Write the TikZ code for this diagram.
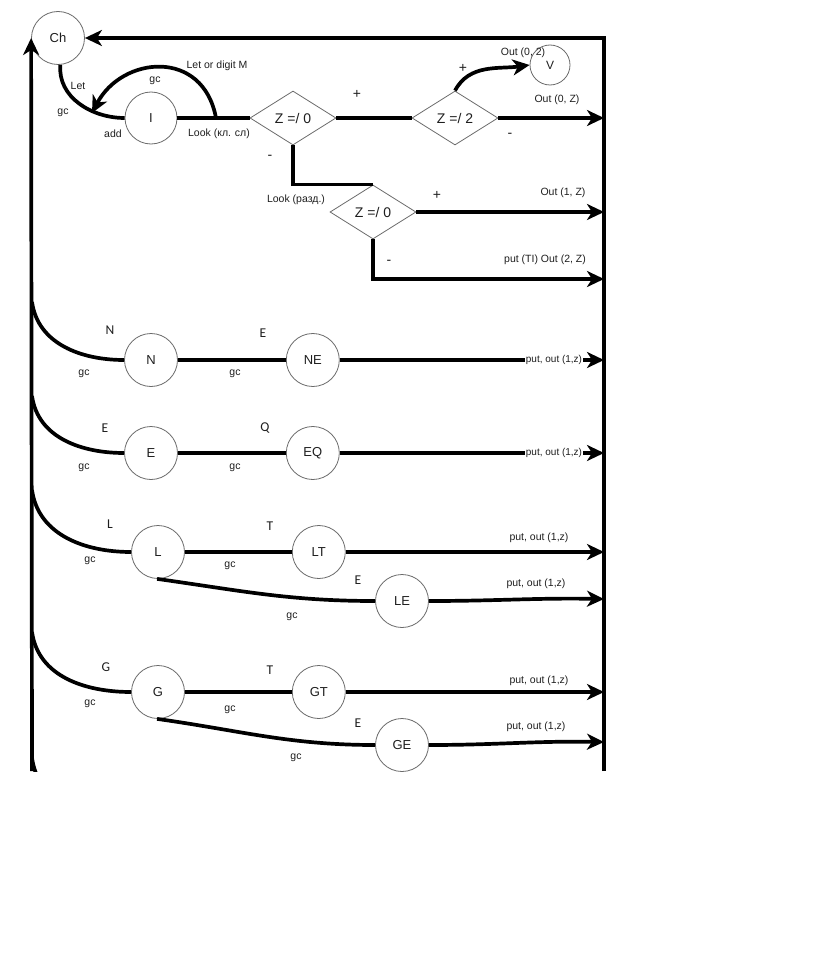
\documentclass[tikz,border=0pt]{standalone}
\usepackage{fontspec}
\setmainfont{Liberation Sans}
\newfontfamily\letterfont{Carlito}
\usepackage{tikz}
\usetikzlibrary{positioning}
\usetikzlibrary{arrows.meta}
\usetikzlibrary{shapes.geometric}
\definecolor{fl-line}{HTML}{000000}
\definecolor{fl-edge}{HTML}{6A6A6A}
\definecolor{fl-text}{HTML}{1E1E1E}

\begin{document}
\begin{tikzpicture}[
    x=1pt, y=-1pt, % pixel-like grid, y grows downwards
    font=\fontsize{10.5}{12}\selectfont,
    >={Stealth[length=17pt,width=16pt,inset=5pt]}
  ]

  % Global Style Definitions
  \tikzset{
    state/.style={circle, draw=fl-edge, line width=0.8pt, minimum size=53pt, inner sep=0pt, text=fl-text, font=\fontsize{13}{15}\selectfont},
    test/.style={diamond, draw=fl-edge, line width=0.8pt, minimum width=86pt, minimum height=54pt, inner sep=0pt, text=fl-text, font=\fontsize{14}{16}\selectfont},
    flow/.style={line width=3.7pt, draw=fl-line},
    lab/.style={inner sep=1pt, text=fl-text},
    outlab/.style={inner sep=0.5pt, fill=white, text=fl-text, font=\fontsize{10}{11}\selectfont},
    sign/.style={inner sep=1pt, text=fl-text, font=\fontsize{14}{16}\selectfont},
    letter/.style={inner sep=1pt, text=fl-text, font=\letterfont\fontsize{13.5}{15}\selectfont}
  }

  \useasboundingbox (0,0) rectangle (824,979);

  % Upper part: identifiers and delimiters
  \node (ch) [state] at (58,38) {Ch};
  \node (i)  [state, minimum size=52pt] at (151,118) {I};
  \node (za) [test] at (293,118) {Z =/ 0};
  \node (zb) [test] at (455,118) {Z =/ 2};
  \node (zc) [test] at (373,212) {Z =/ 0};
  \node (v)  [state, minimum size=40pt, font=\fontsize{12}{14}\selectfont] at (550,65) {V};

  \coordinate (lk) at (216,118);
  \coordinate (ar) at (92,113);
  \coordinate (oa) at (604,118);
  \coordinate (ob) at (604,212);
  \coordinate (oc) at (604,279);
  \coordinate (lb) at (32,771);
  \coordinate (rb) at (604,771);

  % Frame back to Ch
  \draw[flow, ->] (rb) |- (ch.east);
  \draw[flow, ->] (lb) -- (ch.west);

  \draw[flow] (ch.-85) to[out=-95, in=180] (i.west);
  \draw[flow, ->] (lk) .. controls (203,48) and (122,56) .. (ar);
  \draw[flow] (i.east) -- (za.west);
  \draw[flow] (za.east) -- (zb.west);
  \draw[flow, ->] (zb.east) -- (oa);
  \draw[flow, ->] (zb.north) to[out=62, in=188] (v.west);
  \draw[flow] (za.south) |- (zc.north);
  \draw[flow, ->] (zc.east) -- (ob);
  \draw[flow, ->] (zc.south) |- (oc);

  \node (t1)  [lab] at (217,66) {Let or digit M};
  \node (t2)  [lab] at (155,81) {gc};
  \node (t3)  [lab] at (78,86) {Let};
  \node (t4)  [lab] at (63,113) {gc};
  \node (t5)  [lab] at (113,134) {add};
  \node (t6)  [lab] at (219,134) {Look (кл. сл)};
  \node (t7)  [sign] at (357,94) {+};
  \node (t8)  [sign] at (270,157) {-};
  \node (t9)  [lab] at (296,200) {Look (разд.)};
  \node (t10) [sign] at (463,68) {+};
  \node (t11) [lab] at (523,53) {Out (0, 2)};
  \node (t12) [lab] at (557,100) {Out (0, Z)};
  \node (t13) [sign] at (510,135) {-};
  \node (t14) [sign] at (437,195) {+};
  \node (t15) [lab] at (563,193) {Out (1, Z)};
  \node (t16) [lab] at (545,260) {put (TI) Out (2, Z)};
  \node (t17) [sign] at (389,262) {-};

  % Row NE
  \coordinate (nA) at (32,302);
  \coordinate (nO) at (604,360);
  \node (n)  [state] at (151,360) {N};
  \node (ne) [state, right=108pt of n] {NE};
  \draw[flow] (nA) to[out=-82, in=180] (n.west);
  \draw[flow] (n) -- (ne);
  \draw[flow, ->] (ne) -- (nO);
  \node (n1) [letter] at (110,330) {N};
  \node (n2) [lab] at (84,374) {gc};
  \node (n3) [letter] at (263,333) {E};
  \node (n4) [lab] at (235,374) {gc};
  \node (n5) [outlab] at (554,360) {put, out (1,z)};

  % Row EQ
  \coordinate (eA) at (32,396);
  \coordinate (eO) at (604,453);
  \node (e)  [state] at (151,453) {E};
  \node (eq) [state, right=108pt of e] {EQ};
  \draw[flow] (eA) to[out=-82, in=180] (e.west);
  \draw[flow] (e) -- (eq);
  \draw[flow, ->] (eq) -- (eO);
  \node (e1) [letter] at (105,428) {E};
  \node (e2) [lab] at (84,468) {gc};
  \node (e3) [letter] at (265,428) {Q};
  \node (e4) [lab] at (235,468) {gc};
  \node (e5) [outlab] at (554,453) {put, out (1,z)};

  % Row LT / LE
  \coordinate (lA) at (32,490);
  \coordinate (ltO) at (604,552);
  \coordinate (leO) at (604,599);
  \node (l)  [state] at (158,552) {L};
  \node (lt) [state, right=107pt of l] {LT};
  \node (le) [state] at (402,601) {LE};
  \draw[flow] (lA) to[out=-82, in=180] (l.west);
  \draw[flow] (l) -- (lt);
  \draw[flow, ->] (lt) -- (ltO);
  \draw[flow] (l.-92) to[out=-8, in=180] (le.west);
  \draw[flow, ->] (le.east) to[out=0, in=179] (leO);
  \node (l1) [letter] at (110,524) {L};
  \node (l2) [lab] at (90,561) {gc};
  \node (l3) [letter] at (270,526) {T};
  \node (l4) [lab] at (230,566) {gc};
  \node (l5) [letter] at (358,580) {E};
  \node (l6) [lab] at (292,617) {gc};
  \node (l7) [lab] at (539,538) {put, out (1,z)};
  \node (l8) [lab] at (536,584) {put, out (1,z)};

  % Row GT / GE
  \coordinate (gA) at (32,632);
  \coordinate (gtO) at (604,692);
  \coordinate (geO) at (604,742);
  \node (g)  [state] at (158,692) {G};
  \node (gt) [state, right=107pt of g] {GT};
  \node (ge) [state] at (402,745) {GE};
  \draw[flow] (gA) to[out=-82, in=180] (g.west);
  \draw[flow] (g) -- (gt);
  \draw[flow, ->] (gt) -- (gtO);
  \draw[flow] (g.-92) to[out=-8, in=180] (ge.west);
  \draw[flow, ->] (ge.east) to[out=0, in=179] (geO);
  \node (g1) [letter] at (106,667) {G};
  \node (g2) [lab] at (90,704) {gc};
  \node (g3) [letter] at (270,670) {T};
  \node (g4) [lab] at (230,710) {gc};
  \node (g5) [letter] at (358,723) {E};
  \node (g6) [lab] at (296,758) {gc};
  \node (g7) [lab] at (539,681) {put, out (1,z)};
  \node (g8) [lab] at (536,727) {put, out (1,z)};

  % next row, cut off at the edge
  \coordinate (bA) at (32,758);
  \coordinate (bB) at (125,820);
  \begin{scope}
    \clip (0,0) rectangle (824,771);
    \draw[flow] (bA) to[out=-82, in=180] (bB);
  \end{scope}

\end{tikzpicture}
\end{document}
